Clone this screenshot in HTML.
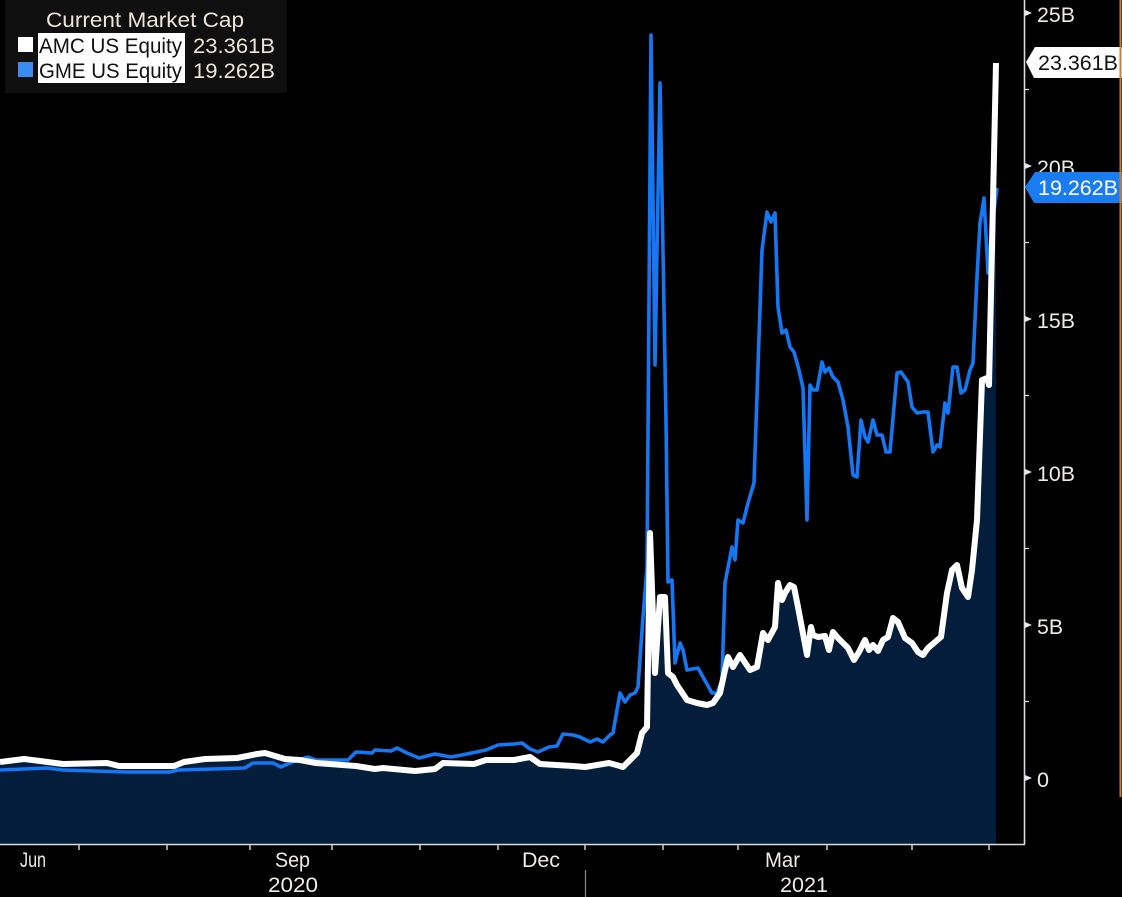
<!DOCTYPE html>
<html>
<head>
<meta charset="utf-8">
<style>
html,body{margin:0;padding:0;background:#000;}
body{width:1122px;height:897px;overflow:hidden;}
svg{display:block;}
text{font-family:"Liberation Sans",sans-serif;}
.n{font-family:"Liberation Sans Narrow","Liberation Sans",sans-serif;}
</style>
</head>
<body>
<svg width="1122" height="897" viewBox="0 0 1122 897" xmlns="http://www.w3.org/2000/svg">
<rect x="0" y="0" width="1122" height="897" fill="#000"/>

<!-- area fill under AMC -->
<path fill="#031d3b" d="M0,844 L0,762 L24,759 L40,761 L63,764 L107,763 L119,766 L174,766 L184,762 L205,759 L237,758 L257,754 L265,753 L285,759 L300,760 L316,763 L356,766 L375,769 L383,768 L415,771 L435,769 L443,763 L474,764 L486,760 L514,760 L530,757 L540,764 L573,766 L585,767 L609,763 L620,766 L623,767 L630,760 L637,753 L642,733 L647,727 L650,533 L655,673 L660,597 L665,597 L668,673 L673,677 L677,685 L687,700 L697,703 L707,705 L713,703 L720,693 L725,670 L728,657 L733,667 L740,655 L750,670 L757,667 L763,633 L768,640 L775,627 L778,583 L782,600 L785,593 L790,585 L794,587 L798,607 L807,655 L811,627 L813,635 L818,637 L825,636 L829,650 L833,632 L838,638 L843,643 L848,648 L854,660 L859,652 L865,640 L869,650 L873,645 L878,651 L883,640 L888,637 L893,618 L898,622 L905,638 L912,643 L918,652 L923,655 L928,648 L935,642 L941,637 L947,593 L952,570 L957,565 L962,588 L968,597 L972,570 L977,520 L982,380 L987,378 L989,385 L996,63 L996,844 Z"/>

<!-- GME line -->
<polyline fill="none" stroke="#1677f2" stroke-width="3.6" stroke-linejoin="round" points="0,770 47,768 63,770 126,772 170,772 178,770 213,769 245,768 253,763 273,763 281,767 292,762 308,757 316,760 348,760 356,752 372,753 375,750 391,751 397,748 407,753 419,758 435,754 451,757 462,755 486,750 498,745 514,744 522,743 530,749 538,752 549,747 557,746 563,734 573,735 580,737 590,742 597,739 603,742 610,735 613,733 620,693 625,702 630,695 635,693 638,687 643,617 647,567 651,35 655,365 660,83 666,420 668,582 672,580 675,663 680,643 683,650 687,670 698,668 703,677 712,693 717,693 722,680 725,583 732,547 735,560 738,520 743,523 748,503 754,483 762,250 767,212 771,222 775,213 778,307 782,333 786,330 790,347 794,352 799,370 803,388 807,520 810,385 813,390 817,390 822,362 825,372 829,368 833,377 838,382 843,400 848,427 853,475 857,477 861,420 865,437 868,442 873,420 877,435 882,435 886,452 890,452 897,373 901,372 908,382 912,407 917,413 923,412 928,412 933,452 937,445 940,447 945,403 948,413 953,367 957,367 961,393 965,390 970,370 973,363 977,277 980,223 984,198 988,273 992,227 997,188"/>

<!-- AMC line -->
<polyline fill="none" stroke="#ffffff" stroke-width="6" stroke-linejoin="round" points="0,762 24,759 40,761 63,764 107,763 119,766 174,766 184,762 205,759 237,758 257,754 265,753 285,759 300,760 316,763 356,766 375,769 383,768 415,771 435,769 443,763 474,764 486,760 514,760 530,757 540,764 573,766 585,767 609,763 620,766 623,767 630,760 637,753 642,733 647,727 650,533 655,673 660,597 665,597 668,673 673,677 677,685 687,700 697,703 707,705 713,703 720,693 725,670 728,657 733,667 740,655 750,670 757,667 763,633 768,640 775,627 778,583 782,600 785,593 790,585 794,587 798,607 807,655 811,627 813,635 818,637 825,636 829,650 833,632 838,638 843,643 848,648 854,660 859,652 865,640 869,650 873,645 878,651 883,640 888,637 893,618 898,622 905,638 912,643 918,652 923,655 928,648 935,642 941,637 947,593 952,570 957,565 962,588 968,597 972,570 977,520 982,380 987,378 989,385 996,63"/>

<!-- axes -->
<line x1="1024.5" y1="0" x2="1024.5" y2="844.5" stroke="#dcdcdc" stroke-width="1.6"/>
<line x1="0" y1="844.5" x2="1025" y2="844.5" stroke="#dcdcdc" stroke-width="1.6"/>

<!-- bottom ticks -->
<g stroke="#dcdcdc" stroke-width="1.4">
<line x1="79" y1="844" x2="79" y2="850"/>
<line x1="167" y1="844" x2="167" y2="850"/>
<line x1="250" y1="844" x2="250" y2="850"/>
<line x1="332" y1="844" x2="332" y2="850"/>
<line x1="420" y1="844" x2="420" y2="850"/>
<line x1="498" y1="844" x2="498" y2="850"/>
<line x1="585" y1="844" x2="585" y2="850"/>
<line x1="663" y1="844" x2="663" y2="850"/>
<line x1="738" y1="844" x2="738" y2="850"/>
<line x1="827" y1="844" x2="827" y2="850"/>
<line x1="912" y1="844" x2="912" y2="850"/>
<line x1="989" y1="844" x2="989" y2="850"/>
</g>
<line x1="585.5" y1="870" x2="585.5" y2="897" stroke="#8a8a8a" stroke-width="1.2"/>

<!-- right axis major tick triangles -->
<g fill="#e8e8e8">
<polygon points="1025,10 1032,13 1025,16"/>
<polygon points="1025,163 1032,166 1025,169"/>
<polygon points="1025,316 1032,319 1025,322"/>
<polygon points="1025,469 1032,472 1025,475"/>
<polygon points="1025,622 1032,625 1025,628"/>
<polygon points="1025,775 1032,778 1025,781"/>
</g>
<g stroke="#e8e8e8" stroke-width="1.2">
<line x1="1025" y1="89.5" x2="1029" y2="89.5"/>
<line x1="1025" y1="242.5" x2="1029" y2="242.5"/>
<line x1="1025" y1="395.5" x2="1029" y2="395.5"/>
<line x1="1025" y1="548.5" x2="1029" y2="548.5"/>
<line x1="1025" y1="701.5" x2="1029" y2="701.5"/>
</g>

<!-- right axis labels -->
<g fill="#efece4" font-size="21">
<text x="1037" y="22" textLength="38" lengthAdjust="spacingAndGlyphs">25B</text>
<text x="1037" y="175" textLength="38" lengthAdjust="spacingAndGlyphs">20B</text>
<text x="1037" y="328" textLength="38" lengthAdjust="spacingAndGlyphs">15B</text>
<text x="1037" y="481" textLength="38" lengthAdjust="spacingAndGlyphs">10B</text>
<text x="1037" y="634" textLength="26" lengthAdjust="spacingAndGlyphs">5B</text>
<text x="1037" y="787" textLength="12" lengthAdjust="spacingAndGlyphs">0</text>
</g>

<!-- last value tags -->
<polygon points="1026,62 1035,47 1122,47 1122,78 1034,78" fill="#ffffff"/>
<text x="1038" y="70" font-size="21" fill="#111" textLength="80" lengthAdjust="spacingAndGlyphs">23.361B</text>
<polygon points="1025,187 1035,172 1122,172 1122,203 1034,203" fill="#1a7cf2"/>
<text x="1038" y="195" font-size="21" fill="#ffffff" textLength="80" lengthAdjust="spacingAndGlyphs">19.262B</text>

<!-- orange edge line -->
<line x1="1120.5" y1="0" x2="1120.5" y2="797" stroke="#c8802e" stroke-width="2"/>

<!-- bottom labels -->
<g fill="#efece4" font-size="21">
<text class="n" x="20" y="867" textLength="26" lengthAdjust="spacingAndGlyphs">Jun</text>
<text class="n" x="275" y="867" textLength="35" lengthAdjust="spacingAndGlyphs">Sep</text>
<text class="n" x="522" y="867" textLength="38" lengthAdjust="spacingAndGlyphs">Dec</text>
<text class="n" x="765" y="867" textLength="35" lengthAdjust="spacingAndGlyphs">Mar</text>
<text class="n" x="268" y="892" textLength="50" lengthAdjust="spacingAndGlyphs">2020</text>
<text class="n" x="780" y="892" textLength="48" lengthAdjust="spacingAndGlyphs">2021</text>
</g>

<!-- legend -->
<rect x="5" y="0" width="282" height="93" fill="#0f0f0f"/>
<text x="46" y="27" font-size="21" fill="#ece6d6" textLength="198" lengthAdjust="spacingAndGlyphs">Current Market Cap</text>
<rect x="18" y="37" width="15" height="15" fill="#ffffff"/>
<rect x="38" y="33" width="147" height="25" fill="#ffffff"/>
<text x="39" y="53" font-size="21" fill="#111" textLength="143" lengthAdjust="spacingAndGlyphs">AMC US Equity</text>
<text x="193" y="53" font-size="21" fill="#ece6d6" textLength="82" lengthAdjust="spacingAndGlyphs">23.361B</text>
<rect x="18" y="62" width="15" height="15" fill="#3a8cf0"/>
<rect x="38" y="58" width="147" height="25" fill="#ffffff"/>
<text x="39" y="78" font-size="21" fill="#111" textLength="143" lengthAdjust="spacingAndGlyphs">GME US Equity</text>
<text x="193" y="78" font-size="21" fill="#ece6d6" textLength="82" lengthAdjust="spacingAndGlyphs">19.262B</text>
</svg>
</body>
</html>
